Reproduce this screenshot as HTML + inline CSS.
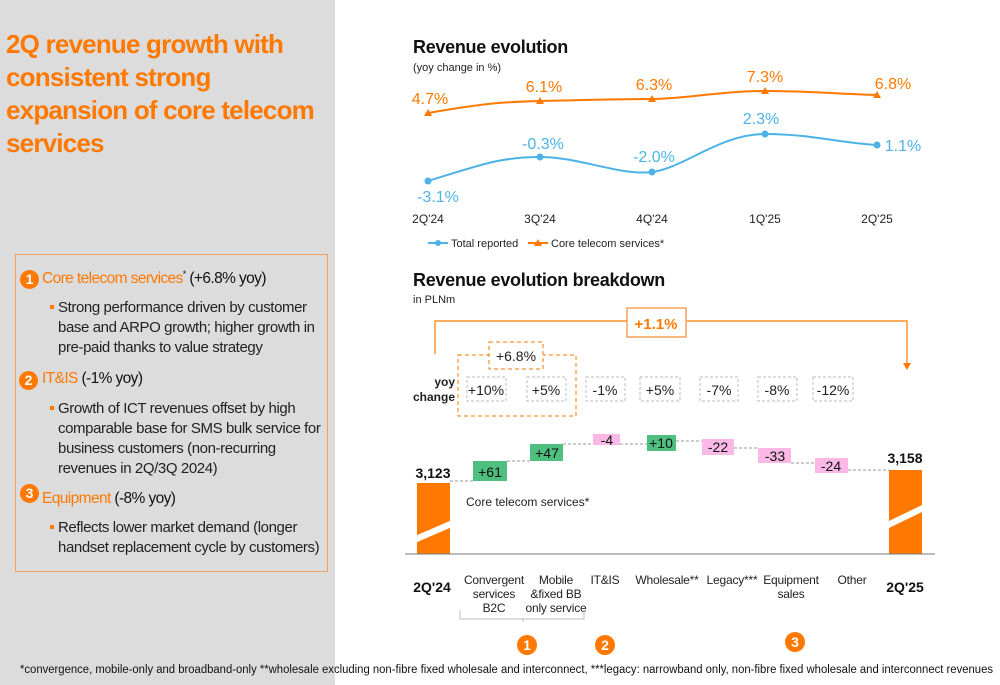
<!DOCTYPE html>
<html><head><meta charset="utf-8"><style>
body{margin:0;width:1000px;height:685px;position:relative;background:#fff;font-family:"Liberation Sans",sans-serif;overflow:hidden}
.left{position:absolute;left:0;top:0;width:335px;height:685px;background:#dcdcdc}
.t{position:absolute;left:6px;top:28px;color:#ff7900;font-weight:bold;font-size:26px;line-height:33px;letter-spacing:-0.8px}
.box{position:absolute;left:15px;top:254px;width:311px;height:316px;border:1.5px solid #f5a05a}
.h{position:absolute;font-size:15.5px;color:#111;letter-spacing:-0.6px}
.h .o{color:#ff7900}
.c{position:absolute;width:19px;height:19px;border-radius:50%;background:#ff7900;color:#fff;font-weight:bold;font-size:14px;text-align:center;line-height:19px}
.p{position:absolute;left:58px;font-size:15px;line-height:20px;color:#222;letter-spacing:-0.4px;white-space:nowrap}
.p:before{content:"";position:absolute;left:-8px;top:7px;width:4px;height:4px;background:#ff7900}
svg{position:absolute;left:0;top:0}
</style></head><body>
<div class="left"></div>
<div class="t">2Q revenue growth with<br>consistent strong<br>expansion of core telecom<br>services</div>
<div class="box"></div>
<div class="c" style="left:20px;top:270px">1</div>
<div class="h" style="left:42px;top:269px"><span class="o">Core telecom services</span><sup style="font-size:9px">*</sup> (+6.8% yoy)</div>
<div class="p" style="top:298px">Strong performance driven by customer<br>base and ARPO growth; higher growth in<br>pre-paid thanks to value strategy</div>
<div class="c" style="left:19px;top:371px">2</div>
<div class="h" style="left:42px;top:370px"><span class="o">IT&amp;IS</span> (-1% yoy)</div>
<div class="p" style="top:399px">Growth of ICT revenues offset by high<br>comparable base for SMS bulk service for<br>business customers (non-recurring<br>revenues in 2Q/3Q 2024)</div>
<div class="c" style="left:20px;top:484px">3</div>
<div class="h" style="left:42px;top:490px"><span class="o">Equipment</span> (-8% yoy)</div>
<div class="p" style="top:518px">Reflects lower market demand (longer<br>handset replacement cycle by customers)</div>

<svg width="1000" height="685" font-family="Liberation Sans, sans-serif">
<text x="413" y="53" font-size="18" font-weight="bold" fill="#111" letter-spacing="-0.3">Revenue evolution</text>
<text x="413" y="71" font-size="11" fill="#222">(yoy change in %)</text>
<path d="M428,113 C480,104 500,102 540,101 S620,99 652,99 S720,91 765,91 S840,94 877,95" stroke="#ff7900" stroke-width="2" fill="none"/>
<path d="M428,181 C480,165 500,157 540,157 S620,176 652,172 S720,134 765,134 S840,143 877,145" stroke="#4db3e6" stroke-width="2" fill="none"/>
<g fill="#ff7900"><path d="M428,109 l4,7 h-8z"/><path d="M540,97 l4,7 h-8z"/><path d="M652,95 l4,7 h-8z"/><path d="M765,87 l4,7 h-8z"/><path d="M877,91 l4,7 h-8z"/></g>
<g fill="#4db3e6"><circle cx="428" cy="181" r="3.5"/><circle cx="540" cy="157" r="3.5"/><circle cx="652" cy="172" r="3.5"/><circle cx="765" cy="134" r="3.5"/><circle cx="877" cy="145" r="3.5"/></g>
<g font-size="16" fill="#ff7900" text-anchor="middle"><text x="430" y="104">4.7%</text><text x="544" y="92">6.1%</text><text x="654" y="90">6.3%</text><text x="765" y="82">7.3%</text><text x="893" y="89">6.8%</text></g>
<g font-size="16" fill="#4db3e6" text-anchor="middle"><text x="438" y="202">-3.1%</text><text x="543" y="149">-0.3%</text><text x="654" y="162">-2.0%</text><text x="761" y="124">2.3%</text><text x="903" y="151">1.1%</text></g>
<g font-size="12" fill="#222" text-anchor="middle"><text x="428" y="223">2Q'24</text><text x="540" y="223">3Q'24</text><text x="652" y="223">4Q'24</text><text x="765" y="223">1Q'25</text><text x="877" y="223">2Q'25</text></g>
<line x1="428" y1="243" x2="448" y2="243" stroke="#4db3e6" stroke-width="2"/><circle cx="438" cy="243" r="3" fill="#4db3e6"/>
<text x="451" y="247" font-size="11" fill="#222">Total reported</text>
<line x1="528" y1="243" x2="548" y2="243" stroke="#ff7900" stroke-width="2"/><path d="M538,239 l4,7 h-8z" fill="#ff7900"/>
<text x="551" y="247" font-size="11" fill="#222">Core telecom services*</text>

<text x="413" y="286" font-size="18" font-weight="bold" fill="#111" letter-spacing="-0.3">Revenue evolution breakdown</text>
<text x="413" y="303" font-size="11" fill="#222">in PLNm</text>
<path d="M435,354 V321 H627 M686,321 H907 V363" stroke="#ff7900" stroke-width="1.2" fill="none"/>
<path d="M903,363 h8 l-4,7z" fill="#ff7900"/>
<rect x="627" y="308" width="59" height="29" fill="#fff" stroke="#f5a05a" stroke-width="1.5"/>
<text x="656" y="329" font-size="15" font-weight="bold" fill="#ff7900" text-anchor="middle">+1.1%</text>
<rect x="458" y="355" width="118" height="61" fill="none" stroke="#ff7900" stroke-dasharray="4,3"/>
<rect x="489" y="342" width="54" height="27" fill="#fff" stroke="#ff7900" stroke-dasharray="4,3"/>
<text x="516" y="361" font-size="14" fill="#222" text-anchor="middle">+6.8%</text>
<text x="455" y="386" font-size="12" font-weight="bold" fill="#222" text-anchor="end">yoy</text>
<text x="455" y="401" font-size="12" font-weight="bold" fill="#222" text-anchor="end">change</text>
<g fill="none" stroke="#bbb" stroke-dasharray="3,2"><rect x="467" y="377" width="39" height="24"/><rect x="527" y="377" width="39" height="24"/><rect x="586" y="377" width="39" height="24"/><rect x="640" y="377" width="40" height="24"/><rect x="700" y="377" width="38" height="24"/><rect x="758" y="377" width="39" height="24"/><rect x="813" y="377" width="40" height="24"/></g>
<g font-size="14" fill="#222" text-anchor="middle"><text x="486" y="395">+10%</text><text x="546" y="395">+5%</text><text x="605" y="395">-1%</text><text x="660" y="395">+5%</text><text x="719" y="395">-7%</text><text x="777" y="395">-8%</text><text x="833" y="395">-12%</text></g>
<g stroke="#999" stroke-dasharray="3,2"><line x1="450" y1="481" x2="473" y2="481"/><line x1="507" y1="461" x2="530" y2="461"/><line x1="563" y1="444" x2="593" y2="444"/><line x1="620" y1="444" x2="647" y2="444"/><line x1="676" y1="441" x2="702" y2="441"/><line x1="734" y1="448" x2="758" y2="448"/><line x1="791" y1="463" x2="815" y2="463"/><line x1="848" y1="470" x2="889" y2="470"/></g>
<rect x="417" y="483" width="33" height="71" fill="#ff7900"/>
<rect x="889" y="470" width="33" height="84" fill="#ff7900"/>
<path d="M415,536 L452,520 L452,527 L415,543z" fill="#fff"/>
<path d="M887,522 L924,504 L924,511 L887,529z" fill="#fff"/>
<line x1="405" y1="554" x2="935" y2="554" stroke="#777" stroke-width="1"/>
<g fill="#4fbf80"><rect x="473" y="461" width="34" height="20"/><rect x="530" y="444" width="33" height="17"/><rect x="647" y="435" width="29" height="16"/></g>
<g fill="#f9b8e6"><rect x="593" y="434" width="27" height="11"/><rect x="702" y="439" width="32" height="16"/><rect x="758" y="448" width="33" height="15"/><rect x="815" y="458" width="33" height="15"/></g>
<g font-size="14" fill="#111" text-anchor="middle"><text x="490" y="477">+61</text><text x="547" y="458">+47</text><text x="607" y="445">-4</text><text x="661" y="448">+10</text><text x="718" y="452">-22</text><text x="775" y="461">-33</text><text x="831" y="471">-24</text></g>
<g font-size="14" font-weight="bold" fill="#111" text-anchor="middle"><text x="433" y="478">3,123</text><text x="905" y="463">3,158</text><text x="432" y="592">2Q'24</text><text x="905" y="592">2Q'25</text></g>
<text x="466" y="506" font-size="12" fill="#222">Core telecom services*</text>
<g font-size="12" fill="#222" text-anchor="middle" letter-spacing="-0.2"><text x="494" y="584">Convergent</text><text x="494" y="598">services</text><text x="494" y="612">B2C</text><text x="556" y="584">Mobile</text><text x="556" y="598">&amp;fixed BB</text><text x="556" y="612">only service</text><text x="605" y="584">IT&amp;IS</text><text x="667" y="584">Wholesale**</text><text x="732" y="584">Legacy***</text><text x="791" y="584">Equipment</text><text x="791" y="598">sales</text><text x="852" y="584">Other</text></g>
<path d="M460,610 V619 H584 V610 M523,619 V622" stroke="#bbb" fill="none"/>
<g fill="#ff7900"><circle cx="527" cy="645" r="10"/><circle cx="605" cy="645" r="10"/><circle cx="795" cy="642" r="10"/></g>
<g font-size="14" font-weight="bold" fill="#fff" text-anchor="middle"><text x="527" y="650">1</text><text x="605" y="650">2</text><text x="795" y="647">3</text></g>
<text x="20" y="673" font-size="11.5" fill="#111" textLength="973" lengthAdjust="spacingAndGlyphs">*convergence, mobile-only and broadband-only  **wholesale excluding non-fibre fixed wholesale and interconnect, ***legacy: narrowband only, non-fibre fixed wholesale and interconnect revenues</text>
</svg>
</body></html>
